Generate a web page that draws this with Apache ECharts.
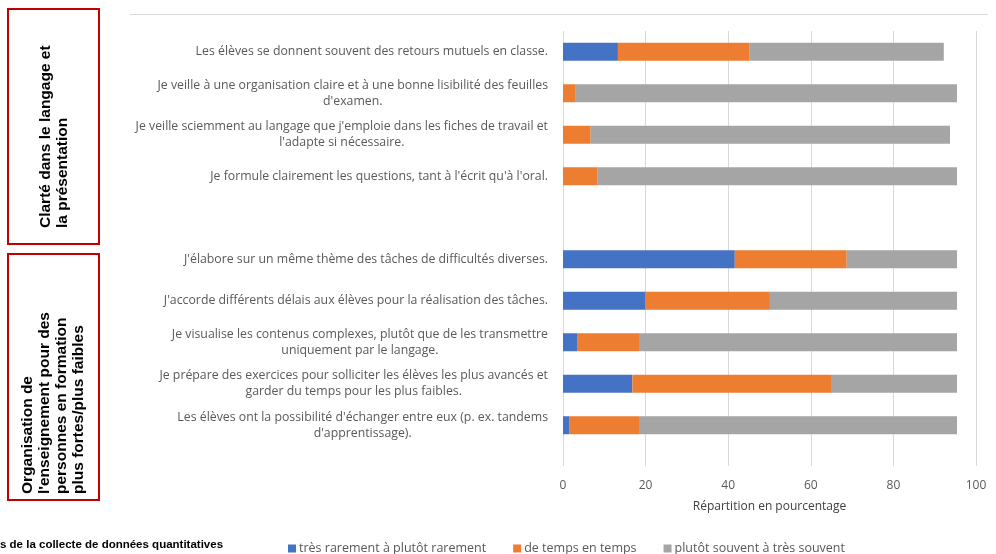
<!DOCTYPE html>
<html>
<head>
<meta charset="utf-8">
<script src="https://cdn.jsdelivr.net/npm/echarts@6/dist/echarts.min.js"></script>
<style>html,body{margin:0;padding:0;background:#fff}#c{width:996px;height:554px}</style>
</head>
<body>
<div id="c"></div>
<script>
var categories = [
  "Les élèves se donnent souvent des retours mutuels en classe.",
  "Je veille à une organisation claire et à une bonne lisibilité des feuilles\nd'examen.",
  "Je veille sciemment au langage que j'emploie dans les fiches de travail et\nl'adapte si nécessaire.",
  "Je formule clairement les questions, tant à l'écrit qu'à l'oral.",
  "",
  "J'élabore sur un même thème des tâches de difficultés diverses.",
  "J'accorde différents délais aux élèves pour la réalisation des tâches.",
  "Je visualise les contenus complexes, plutôt que de les transmettre\nuniquement par le langage.",
  "Je prépare des exercices pour solliciter les élèves les plus avancés et\ngarder du temps pour les plus faibles.",
  "Les élèves ont la possibilité d'échanger entre eux (p. ex. tandems\nd'apprentissage)."
];
var seriesNames = ["très rarement à plutôt rarement", "de temps en temps", "plutôt souvent à très souvent"];
var rarely    = [13.3, 0,    0,    0,    null, 41.6, 20.0, 3.4,  16.8, 1.6];
var sometimes = [31.9, 3.1,  6.7,  8.4,  null, 27.1, 30.1, 15.0, 48.3, 16.8];
var often     = [47.0, 92.3, 87.0, 87.0, null, 26.7, 45.3, 77.0, 30.3, 77.0];
var xTicks = [0, 20, 40, 60, 80, 100];
var axisTitle = "Répartition en pourcentage";
var groupLabels = [
  "Clarté dans le langage et\nla présentation",
  "Organisation de\nl'enseignement pour des\npersonnes en formation\nplus fortes/plus faibles"
];
var sourceText = "s de la collecte de données quantitatives";

var colors = ["#4472C4", "#ED7D31", "#A5A5A5"];
var chart = echarts.init(document.getElementById('c'), null, {renderer: 'canvas'});
var labelFont = "'Open Sans', sans-serif";
var boldFont = "'Liberation Sans', Arial, sans-serif";

function mkSeries(name, data, i) {
  return {
    name: name, type: 'bar', stack: 'total', xAxisIndex: 1, yAxisIndex: 1,
    data: data, barWidth: 18, itemStyle: {color: colors[i]}, silent: true
  };
}

chart.setOption({
  animation: false,
  color: colors,
  grid: [
    {left: 563, right: 20, top: 31, bottom: 88},
    {left: 563, right: 20, top: 31, bottom: 108}
  ],
  xAxis: [
    {
      gridIndex: 0, type: 'value', min: xTicks[0], max: xTicks[xTicks.length - 1], interval: xTicks[1] - xTicks[0],
      axisLine: {show: false}, axisTick: {show: false},
      splitLine: {show: true, lineStyle: {color: '#d9d9d9', width: 1}},
      axisLabel: {color: '#595959', fontSize: 12, fontFamily: labelFont, margin: 14},
      name: axisTitle, nameLocation: 'middle', nameGap: 35,
      nameTextStyle: {color: '#404040', fontSize: 12, fontFamily: labelFont}
    },
    {gridIndex: 1, type: 'value', min: 0, max: 100, show: false}
  ],
  yAxis: [
    {gridIndex: 0, type: 'value', min: 0, max: 1, show: false},
    {
      gridIndex: 1, type: 'category', data: categories, inverse: true,
      axisLine: {show: false}, axisTick: {show: false}, splitLine: {show: false},
      axisLabel: {
        interval: 0, margin: 15, align: 'right',
        color: '#595959', fontSize: 12.3, fontFamily: labelFont, lineHeight: 16,
        formatter: function (v) {
          if (!v) return '';
          return v.split('\n').map(function (s) { return '{c|' + s + '}'; }).join('\n');
        },
        rich: {c: {align: 'center', color: '#595959', fontSize: 12.3, fontFamily: labelFont, lineHeight: 16}}
      }
    }
  ],
  legend: {
    data: seriesNames, left: 283, top: 537, icon: 'rect', itemWidth: 8, itemHeight: 8, itemGap: 27,
    textStyle: {color: '#595959', fontSize: 12.5, fontFamily: labelFont, padding: [0, 0, 0, -2]}, selectedMode: false
  },
  series: [
    mkSeries(seriesNames[0], rarely, 0),
    mkSeries(seriesNames[1], sometimes, 1),
    mkSeries(seriesNames[2], often, 2)
  ],
  graphic: [
    {type: 'line', shape: {x1: 130, y1: 14.5, x2: 988, y2: 14.5}, style: {stroke: '#d9d9d9', lineWidth: 1}, silent: true},
    {type: 'rect', shape: {x: 8, y: 9, width: 91, height: 235}, style: {fill: 'none', stroke: '#C00000', lineWidth: 2}, silent: true},
    {type: 'rect', shape: {x: 8, y: 254, width: 91, height: 246}, style: {fill: 'none', stroke: '#C00000', lineWidth: 2}, silent: true},
    {type: 'text', x: 54, y: 228, rotation: Math.PI / 2, silent: true,
      style: {text: groupLabels[0], fill: '#000', fontSize: 15.5, fontWeight: 'bold', fontFamily: boldFont, align: 'left', verticalAlign: 'middle', lineHeight: 17.5}},
    {type: 'text', x: 53, y: 494, rotation: Math.PI / 2, silent: true,
      style: {text: groupLabels[1], fill: '#000', fontSize: 15.5, fontWeight: 'bold', fontFamily: boldFont, align: 'left', verticalAlign: 'middle', lineHeight: 17}},
    {type: 'text', x: 0, y: 545, silent: true,
      style: {text: sourceText, fill: '#000', fontSize: 11.5, fontWeight: 'bold', fontFamily: boldFont, align: 'left', verticalAlign: 'middle'}}
  ]
});
</script>
</body>
</html>
